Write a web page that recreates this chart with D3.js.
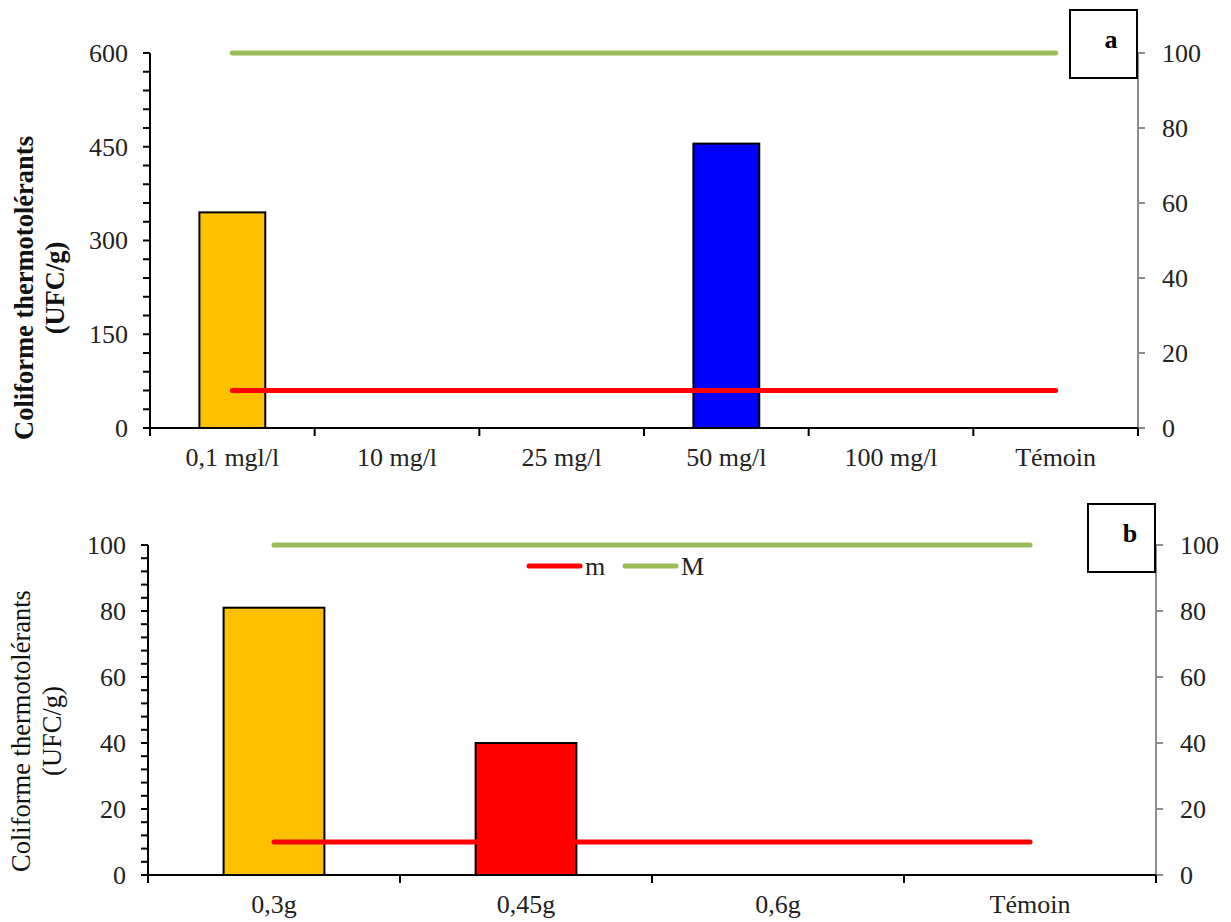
<!DOCTYPE html>
<html>
<head>
<meta charset="utf-8">
<script src="https://cdn.jsdelivr.net/npm/d3@7"></script>
<style>
  html, body { margin: 0; padding: 0; background: #fff; }
  svg { display: block; font-family: "Liberation Serif", "Times New Roman", serif; }
</style>
</head>
<body>
<svg id="chart" width="1231" height="922"></svg>
<script>
// Panel a: thermotolerant coliforms by concentration
const catsA = ["0,1 mgl/l", "10 mg/l", "25 mg/l", "50 mg/l", "100 mg/l", "Témoin"];
const valuesA = [345, null, null, 455, null, null];
const colorsA = ["#FFC000", null, null, "#0000FF", null, null];
const ticksLeftA = [0, 150, 300, 450, 600];

// Panel b: thermotolerant coliforms by dose
const catsB = ["0,3g", "0,45g", "0,6g", "Témoin"];
const valuesB = [81, 40, null, null];
const colorsB = ["#FFC000", "#FF0000", null, null];
const ticksLeftB = [0, 20, 40, 60, 80, 100];

// Reference limits (secondary axis)
const limitM = 10;    // m
const limitBigM = 100; // M
const ticksRight = [0, 20, 40, 60, 80, 100];

const svg = d3.select("#chart");
const FS = 26;
const FS_TITLE = 26.5;

function panel(opt) {
  const g = svg.append("g");
  const x = d3.scaleBand().domain(opt.cats).range([opt.x0, opt.x1])
    .paddingInner(0.6).paddingOuter(0.3);
  const step = x.step();
  const y = d3.scaleLinear().domain([0, opt.yMax]).range([opt.y0, opt.y1]);
  const y2 = d3.scaleLinear().domain([0, 100]).range([opt.y0, opt.y1]);

  // bars
  g.selectAll("rect.bar")
    .data(opt.cats.map((c, i) => ({ c, v: opt.values[i], col: opt.colors[i] })).filter(d => d.v != null))
    .join("rect")
    .attr("class", "bar")
    .attr("x", d => x(d.c))
    .attr("y", d => y(d.v))
    .attr("width", x.bandwidth())
    .attr("height", d => y(0) - y(d.v))
    .attr("fill", d => d.col)
    .attr("stroke", "#000")
    .attr("stroke-width", 2);

  // limit lines on secondary axis
  const cx = c => x(c) + x.bandwidth() / 2;
  const line = d3.line().x(d => cx(d.c)).y(d => y2(d.v));
  [[limitM, "#FF0000"], [limitBigM, "#9BBB59"]].forEach(([v, col]) => {
    g.append("path")
      .datum(opt.cats.map(c => ({ c, v })))
      .attr("d", line)
      .attr("fill", "none")
      .attr("stroke", col)
      .attr("stroke-width", 5)
      .attr("stroke-linecap", "round");
  });

  // left axis
  const minor = d3.range(0, opt.yMax + 1e-9, opt.minorStep);
  const left = g.append("g").attr("transform", `translate(${opt.x0},0)`);
  left.append("line").attr("y1", y(0)).attr("y2", y(opt.yMax)).attr("stroke", "#000").attr("stroke-width", 2);
  left.selectAll("line.mt").data(minor).join("line")
    .attr("class", "mt")
    .attr("x1", -7).attr("x2", 0).attr("y1", d => y(d)).attr("y2", d => y(d))
    .attr("stroke", "#000").attr("stroke-width", 2);
  left.selectAll("text").data(opt.ticksLeft).join("text")
    .attr("x", -22).attr("y", d => y(d)).attr("dy", "0.34em")
    .attr("text-anchor", "end").attr("font-size", FS).attr("fill", "#222")
    .text(d => d);

  // right axis
  const right = g.append("g").attr("transform", `translate(${opt.x1},0)`);
  right.append("line").attr("y1", y2(0)).attr("y2", y2(100)).attr("stroke", "#8c8c8c").attr("stroke-width", 2);
  right.selectAll("line.t").data(ticksRight).join("line")
    .attr("class", "t")
    .attr("x1", 0).attr("x2", 7).attr("y1", d => y2(d)).attr("y2", d => y2(d))
    .attr("stroke", "#8c8c8c").attr("stroke-width", 2);
  right.selectAll("text").data(ticksRight).join("text")
    .attr("x", 24).attr("y", d => y2(d)).attr("dy", "0.34em")
    .attr("text-anchor", "start").attr("font-size", FS).attr("fill", "#222")
    .text(d => d);

  // bottom axis: ticks on category boundaries, labels at category centres
  const bottom = g.append("g").attr("transform", `translate(0,${opt.y0})`);
  bottom.append("line").attr("x1", opt.x0).attr("x2", opt.x1).attr("stroke", "#000").attr("stroke-width", 2);
  bottom.selectAll("line.t").data(d3.range(opt.cats.length + 1)).join("line")
    .attr("class", "t")
    .attr("x1", i => opt.x0 + i * step).attr("x2", i => opt.x0 + i * step)
    .attr("y1", 0).attr("y2", 8).attr("stroke", "#000").attr("stroke-width", 2);
  bottom.selectAll("text").data(opt.cats).join("text")
    .attr("x", c => cx(c)).attr("y", 38)
    .attr("text-anchor", "middle").attr("font-size", FS).attr("fill", "#222")
    .text(c => c);

  // y title
  const t = g.append("text")
    .attr("transform", `translate(${opt.titleX},${opt.titleY}) rotate(-90)`)
    .attr("text-anchor", "middle").attr("font-size", FS_TITLE)
    .attr("font-weight", opt.bold ? "bold" : "normal").attr("fill", "#111");
  t.append("tspan").attr("x", 0).attr("dy", 0).text("Coliforme thermotolérants");
  t.append("tspan").attr("x", 0).attr("dy", 31).text("(UFC/g)");

  // panel letter box
  g.append("rect").attr("x", opt.box[0]).attr("y", opt.box[1]).attr("width", opt.box[2]).attr("height", opt.box[3])
    .attr("fill", "#fff").attr("stroke", "#000").attr("stroke-width", 2);
  g.append("text").attr("x", opt.box[0] + opt.box[2] - opt.letterDx).attr("y", opt.box[1] + 38)
    .attr("text-anchor", "middle").attr("font-size", FS).attr("font-weight", "bold").text(opt.letter);
  return { x, y, y2 };
}

panel({
  cats: catsA, values: valuesA, colors: colorsA, yMax: 600, minorStep: 30,
  ticksLeft: ticksLeftA, x0: 150, x1: 1138, y0: 428, y1: 53,
  titleX: 33, titleY: 288, bold: true,
  box: [1070, 10, 67, 68], letter: "a", letterDx: 26
});

panel({
  cats: catsB, values: valuesB, colors: colorsB, yMax: 100, minorStep: 4,
  ticksLeft: ticksLeftB, x0: 148, x1: 1156, y0: 875, y1: 545,
  titleX: 30, titleY: 731, bold: false,
  box: [1088, 504, 67, 68], letter: "b", letterDx: 25
});

// legend for panel b
const legend = svg.append("g").attr("transform", "translate(527,566)");
const legendItems = [{ name: "m", color: "#FF0000" }, { name: "M", color: "#9BBB59" }];
legendItems.forEach((d, i) => {
  const gx = i * 96;
  legend.append("line").attr("x1", gx + 2).attr("x2", gx + 53).attr("y1", 0).attr("y2", 0)
    .attr("stroke", d.color).attr("stroke-width", 5).attr("stroke-linecap", "round");
  legend.append("text").attr("x", gx + 58).attr("y", 0).attr("dy", "0.34em")
    .attr("font-size", FS).attr("fill", "#222").text(d.name);
});
</script>
</body>
</html>
